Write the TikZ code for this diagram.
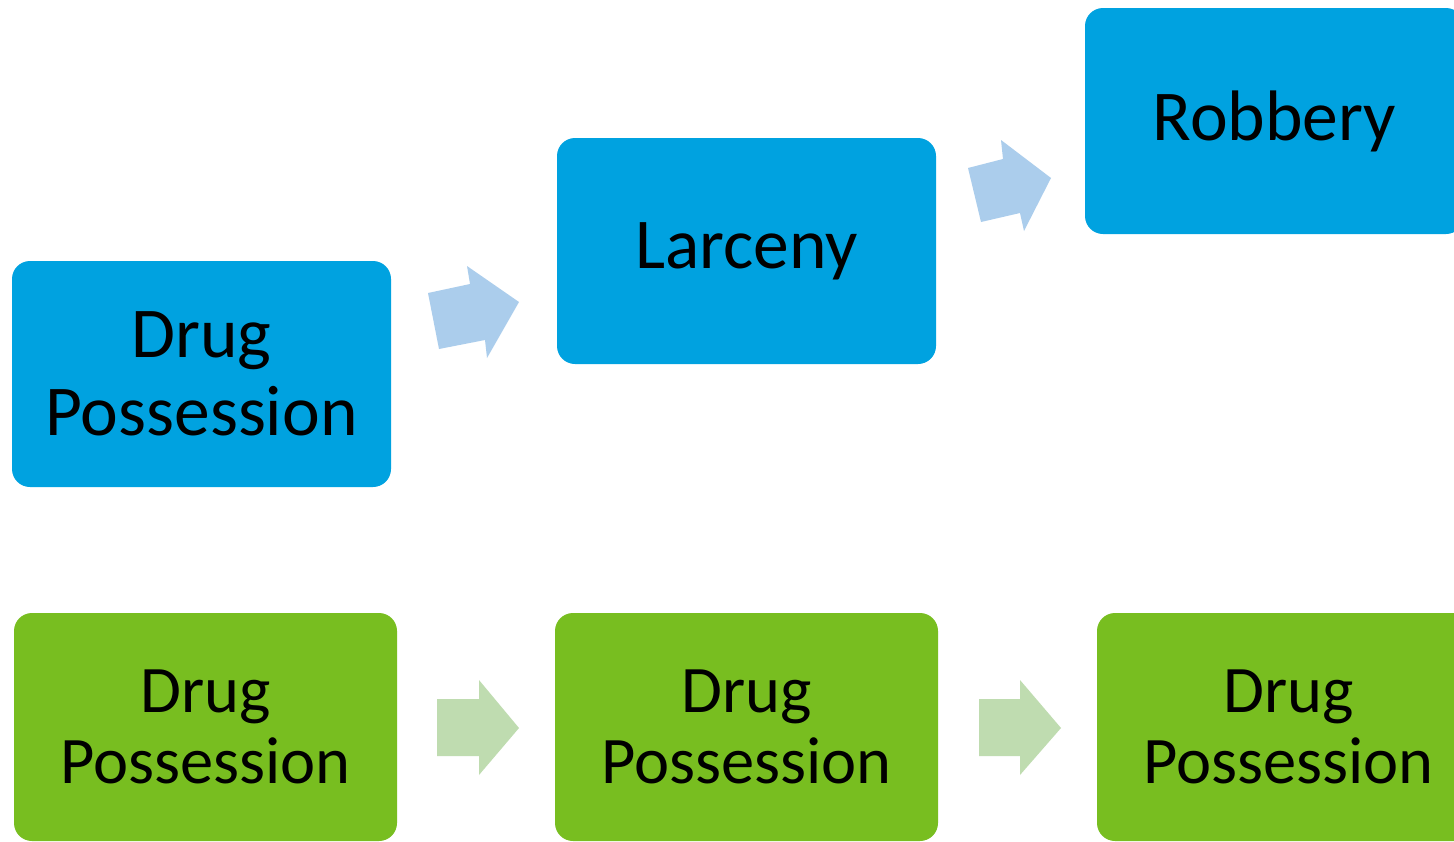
\documentclass[tikz,border=0pt]{standalone}
\usepackage{fontspec}
\setmainfont{Carlito}
\definecolor{boxblue}{RGB}{0,162,224}
\definecolor{arrblue}{RGB}{171,205,236}
\definecolor{boxgreen}{RGB}{120,190,32}
\definecolor{arrgreen}{RGB}{191,220,176}
\tikzset{
  crimebox/.style={rounded corners=18pt, inner sep=0pt, align=center, text=black},
  bluebox/.style={crimebox, fill=boxblue, minimum width=379pt, minimum height=226pt,
    font=\fontsize{71.5pt}{78pt}\selectfont},
  greenbox/.style={crimebox, fill=boxgreen, minimum width=383pt, minimum height=228pt,
    font=\fontsize{66.5pt}{71pt}\selectfont},
  bluearrow/.style={fill=arrblue, draw=none},
  greenarrow/.style={fill=arrgreen, draw=none}
}
\begin{document}
\begin{tikzpicture}[x=1pt, y=-1pt]
\useasboundingbox (0,0) rectangle (1454,841);
\fill[white] (0,0) rectangle (1454,841);
% blue row
\node[bluebox] (b1) at (201.5,374) {Drug\\Possession};
\node[bluebox] (b2) at (746.5,251) {\raisebox{-3pt}{Larceny}};
\node[bluebox] (b3) at (1274.5,121) {Robbery};
% green row
\node[greenbox] (g1) at (205.5,727) {Drug\\Possession};
\node[greenbox] (g2) at (746.5,727) {Drug\\Possession};
\node[greenbox] (g3) at (1288.5,727) {Drug\\Possession};
% blue block arrows
\fill[bluearrow] (428,293) -- (470,284) -- (467,266) -- (519,302) -- (487,358) -- (485,340) -- (439,349) -- cycle;
\fill[bluearrow] (968,168) -- (1003,159) -- (1001,140) -- (1051,178) -- (1024,231) -- (1020,213) -- (981,222) -- cycle;
% green block arrows
\fill[greenarrow] (437,699) -- (479,699) -- (479,680) -- (519,728) -- (479,775) -- (479,756) -- (437,756) -- cycle;
\fill[greenarrow] (979,699) -- (1020,699) -- (1020,680) -- (1061,728) -- (1020,775) -- (1020,756) -- (979,756) -- cycle;
\end{tikzpicture}
\end{document}
